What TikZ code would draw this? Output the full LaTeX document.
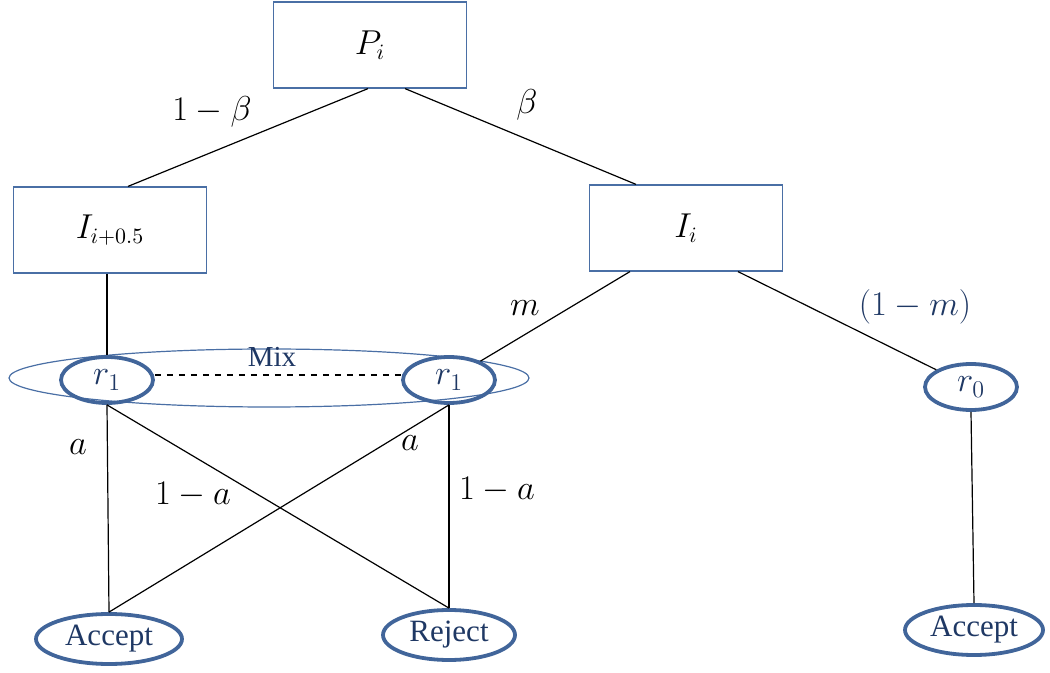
\documentclass[tikz,border=0pt]{standalone}
\usepackage{fontspec}
\setmainfont{Liberation Serif}
\usetikzlibrary{shapes.geometric,calc}
\definecolor{boxblue}{HTML}{4A6FA5}
\definecolor{ellblue}{HTML}{41659A}
\definecolor{navy}{HTML}{1F3864}
\tikzset{
  statebox/.style={draw=boxblue,line width=0.6pt,rectangle,minimum width=96.5pt,minimum height=43pt,inner sep=0pt,font=\fontsize{16}{18}\selectfont},
  outc/.style={draw=ellblue,line width=1.9pt,ellipse,inner sep=0pt,text=navy,font=\fontsize{15.5}{17}\selectfont},
  rnode/.style={outc,minimum width=46pt,minimum height=23pt,font=\fontsize{18}{20}\selectfont},
  conn/.style={draw=black,line width=0.6pt},
  lab/.style={font=\fontsize{16.5}{18}\selectfont,inner sep=0pt},
}
\begin{document}
\begin{tikzpicture}[x=0.5pt,y=-0.5pt]
\useasboundingbox (0,0) rectangle (1050,673);
% boxes
\node[statebox] (P) at (370,45) {$P_i$};
\node[statebox] (Ih) at (110,230) {$I_{i+0.5}$};
\node[statebox] (Ii) at (686,228) {$I_i$};
% mix ellipse
\node[draw=boxblue,line width=0.6pt,ellipse,minimum width=260pt,minimum height=29pt,inner sep=0pt] (mix) at (269,378) {};
\node[text=navy,font=\fontsize{14.5}{16}\selectfont,inner sep=0pt] (mixlab) at (272,357) {Mix};
% r nodes
\node[rnode] (r1L) at (107,380) {$r_1$};
\node[rnode] (r1R) at (449,380) {$r_1$};
\node[rnode] (r0) at (971,387) {$r_0$};
% outcomes
\node[outc,minimum width=73pt,minimum height=25pt] (AccL) at (109,639) {Accept};
\node[outc,minimum width=66pt,minimum height=25pt] (Rej) at (449,635) {Reject};
\node[outc,minimum width=69pt,minimum height=25pt] (AccR) at (974,630) {Accept};
% connectors
\draw[conn] ($(P.south)+(-2,0)$) -- ($(Ih.north)+(18,0)$);
\draw[conn] ($(P.south)+(35,0)$) -- ($(Ii.north)+(-50,0)$);
\draw[conn] (r1L.north |- Ih.south) -- (r1L.north);
\draw[conn] ($(Ii.south)+(-56,0)$) -- (r1R);
\draw[conn] ($(Ii.south)+(52,0)$) -- (r0);
\draw[conn,dashed] (r1L.east |- 0,375) -- (r1R.west |- 0,375);
\draw[conn] (r1L.south) -- (AccL.north);
\draw[conn] (r1L.south) -- (Rej.north);
\draw[conn] (r1R.south) -- (AccL.north);
\draw[conn] (r1R.south) -- (Rej.north);
\draw[conn] (r0.south) -- (AccR.north);
% labels
\node[lab] (lb1) at (212,112) {$1-\beta$};
\node[lab] (lb2) at (527,105) {$\beta$};
\node[lab] (lm) at (525,308) {$m$};
\node[lab,text=navy] (l1m) at (915,307) {$(1-m)$};
\node[lab] (la1) at (78,447) {$a$};
\node[lab] (l1a1) at (193,495) {$1-a$};
\node[lab] (la2) at (410,443) {$a$};
\node[lab] (l1a2) at (497,490) {$1-a$};
\end{tikzpicture}
\end{document}
